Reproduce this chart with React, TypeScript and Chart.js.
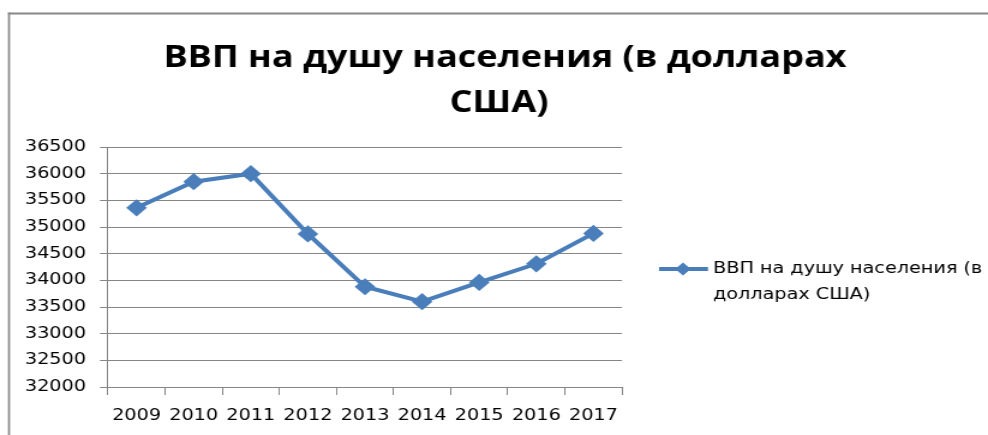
import React, { useEffect, useRef } from "react";
import { Chart, registerables } from "chart.js";

Chart.register(...registerables);

// ---- data ----
const TITLE_LINES = ["ВВП на душу населения (в долларах", "США)"];
const SERIES_LABEL = "ВВП на душу населения (в долларах США)";
const YEARS = ["2009", "2010", "2011", "2012", "2013", "2014", "2015", "2016", "2017"];
const GDP_PER_CAPITA = [35360, 35850, 36000, 34870, 33880, 33600, 33960, 34310, 34880];
const Y_MIN = 32000;
const Y_MAX = 36500;
const Y_STEP = 500;

// ---- layout (the reference is stretched horizontally) ----
const CSS_W = 988;
const H = 435;
const STRETCH = 1.2;
const W = Math.round(CSS_W / STRETCH);
const sx = (v: number) => (v * W) / CSS_W;

const GRID = "#868686";
const LINE = "#4A7EBB";
const TICK_FONT = { family: "'DejaVu Sans', sans-serif", size: 16 };

const decorPlugin = {
  id: "decor",
  beforeDraw(chart: any) {
    const ctx = chart.ctx as CanvasRenderingContext2D;
    ctx.save();
    ctx.fillStyle = "#ffffff";
    ctx.fillRect(0, 0, W, H);
    // outer frame (top + left visible)
    ctx.fillStyle = "#878787";
    ctx.fillRect(sx(8), 12.5, W, 2);
    ctx.fillRect(sx(8), 12.5, sx(2), H);
    ctx.restore();
  },
  afterDraw(chart: any) {
    const ctx = chart.ctx as CanvasRenderingContext2D;
    ctx.save();
    // title
    ctx.fillStyle = "#000000";
    ctx.font = "bold 30px 'Open Sans', sans-serif";
    ctx.textAlign = "center";
    ctx.textBaseline = "alphabetic";
    TITLE_LINES.forEach((line, i) => {
      ctx.fillText(line, sx(i === 0 ? 505 : 499), 66.5 + i * 45);
    });

    // legend
    const ds = chart.data.datasets[0];
    const ly = 269;
    ctx.strokeStyle = ds.borderColor;
    ctx.lineWidth = 4;
    ctx.beginPath();
    ctx.moveTo(sx(659), ly);
    ctx.lineTo(sx(708), ly);
    ctx.stroke();
    const cx = sx(683);
    const r = 6.5;
    ctx.fillStyle = ds.borderColor;
    ctx.beginPath();
    ctx.moveTo(cx - r, ly);
    ctx.lineTo(cx, ly - r);
    ctx.lineTo(cx + r, ly);
    ctx.lineTo(cx, ly + r);
    ctx.closePath();
    ctx.fill();

    ctx.fillStyle = "#000000";
    ctx.font = "16px 'DejaVu Sans', sans-serif";
    ctx.textAlign = "left";
    ctx.textBaseline = "middle";
    const maxW = sx(985 - 713);
    const words = String(ds.label).split(" ");
    const lines: string[] = [];
    let cur = "";
    for (const w of words) {
      const test = cur ? cur + " " + w : w;
      if (ctx.measureText(test).width > maxW && cur) {
        lines.push(cur);
        cur = w;
      } else {
        cur = test;
      }
    }
    if (cur) lines.push(cur);
    lines.forEach((l, i) => ctx.fillText(l, sx(713), ly + i * 26));
    ctx.restore();
  },
};

export default function App() {
  const ref = useRef<HTMLCanvasElement | null>(null);

  useEffect(() => {
    if (!ref.current) return;
    const chart = new Chart(ref.current, {
      type: "line",
      data: {
        labels: YEARS,
        datasets: [
          {
            label: SERIES_LABEL,
            data: GDP_PER_CAPITA,
            borderColor: LINE,
            backgroundColor: LINE,
            borderWidth: 4,
            tension: 0,
            pointStyle: "rectRot",
            pointRadius: 8.6,
            pointBorderWidth: 0,
            pointBackgroundColor: LINE,
            pointBorderColor: LINE,
          },
        ],
      },
      options: {
        responsive: false,
        devicePixelRatio: 1,
        animation: false,
        events: [],
        layout: {
          padding: { left: 0, right: W - sx(622), top: 147, bottom: 0 },
        },
        plugins: {
          legend: { display: false },
          title: { display: false },
          tooltip: { enabled: false },
        },
        scales: {
          x: {
            type: "category",
            offset: true,
            grid: {
              offset: true,
              drawOnChartArea: false,
              drawTicks: true,
              tickLength: 8,
              color: GRID,
            },
            border: { display: true, color: GRID },
            ticks: {
              font: TICK_FONT,
              color: "#000000",
              padding: 11,
              maxRotation: 0,
              autoSkip: false,
            },
            afterFit: (s: any) => {
              s.height = H - 387;
            },
          },
          y: {
            min: Y_MIN,
            max: Y_MAX,
            grid: { color: GRID, tickLength: sx(8) },
            border: { display: true, color: GRID },
            ticks: {
              stepSize: Y_STEP,
              font: TICK_FONT,
              color: "#000000",
              padding: sx(14),
              callback: (v: any) => String(v),
            },
            afterFit: (s: any) => {
              s.width = sx(108);
            },
          },
        },
      },
      plugins: [decorPlugin],
    });
    return () => chart.destroy();
  }, []);

  return (
    <div style={{ position: "absolute", left: 0, top: 0, width: CSS_W, height: H }}>
      <canvas
        ref={ref}
        width={W}
        height={H}
        style={{ width: CSS_W + "px", height: H + "px", display: "block" }}
      />
    </div>
  );
}
